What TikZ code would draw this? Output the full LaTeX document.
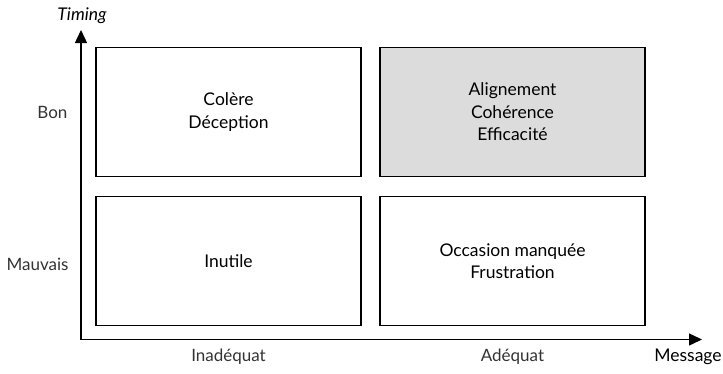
\documentclass[tikz,border=0pt]{standalone}
\usepackage{fontspec}
\setmainfont{Lato}
\usetikzlibrary{arrows.meta}
\begin{document}
\begin{tikzpicture}[x=1pt,y=-1pt,
  box/.style={draw=black,line width=1.3pt,minimum width=265pt,minimum height=129pt,inner sep=0pt,font=\fontsize{17.5}{22.5}\selectfont,align=center},
  ax/.style={line width=1.4pt,-{Triangle[length=13pt,width=12pt]}},
  lab/.style={font=\fontsize{17}{20}\selectfont,text=black!80}]
\useasboundingbox (0,0) rectangle (723,373);
\coordinate (o) at (81,339.5);
\coordinate (ytip) at (81,30);
\coordinate (xtip) at (702,339.5);
\draw[ax] (o) -- (ytip);
\draw[ax] (o) -- (xtip);
\node[box] (tl) at (228.5,112) {Colère\\Déception};
\node[box,fill={rgb,255:red,220;green,220;blue,220}] (tr) at (512.5,112) {Alignement\\Cohérence\\Efficacité};
\node[box] (bl) at (228.5,261) {Inutile};
\node[box] (br) at (512.5,261) {Occasion manquée\\Frustration};
\node[font=\fontsize{17.5}{20}\selectfont\itshape] (timing) at (82,16) {Timing};
\node[font=\fontsize{17.5}{20}\selectfont] (message) at (688,357) {Message};
\node[lab,anchor=east] (bon) at (71,112) {Bon};
\node[lab,anchor=east] (mauvais) at (72,264) {Mauvais};
\node[lab] (inad) at (228.5,357) {Inadéquat};
\node[lab] (adeq) at (512.5,357) {Adéquat};
\end{tikzpicture}
\end{document}
